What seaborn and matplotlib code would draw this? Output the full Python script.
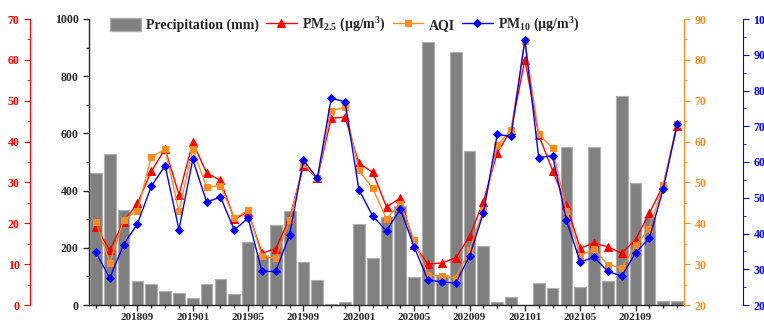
import numpy as np
import pandas as pd
import seaborn as sns
import matplotlib.pyplot as plt
import matplotlib.patches as mpatches
from matplotlib.ticker import MultipleLocator

sns.set_style("ticks")
plt.rcParams['font.family'] = ['Liberation Serif', 'DejaVu Serif']
plt.rcParams['font.weight'] = 'bold'
plt.rcParams['mathtext.fontset'] = 'custom'
plt.rcParams['mathtext.rm'] = 'Liberation Serif:bold'
plt.rcParams['mathtext.bf'] = 'Liberation Serif:bold'
plt.rcParams['mathtext.it'] = 'Liberation Serif:bold:italic'
plt.rcParams['mathtext.default'] = 'bf'

# months 201806 .. 202112
months = list(pd.period_range('2018-06', '2021-12', freq='M').strftime('%Y%m'))

precip = [461, 528, 331, 83, 72, 50, 43, 24, 75, 91, 40, 220,
          175, 279, 329, 151, 86, 2, 12, 283, 165, 307, 347, 97,
          918, 105, 886, 539, 206, 12, 28, 1, 77, 58, 551, 62,
          553, 85, 731, 425, 308, 15, 13]
pm25 = [19.1, 13.4, 20.3, 24.9, 32.7, 38.2, 27.0, 39.8, 32.3, 30.5, 21.0, 22.8,
        12.7, 13.8, 21.3, 34.1, 31.0, 45.7, 46.0, 34.7, 32.5, 24.0, 26.2, 14.7,
        10.0, 10.3, 11.5, 16.8, 25.3, 37.2, 42.9, 60.0, 41.6, 32.9, 24.5, 13.9,
        15.2, 14.2, 12.7, 16.0, 22.5, 29.3, 43.7]
aqi = [40.4, 30.3, 40.8, 43.1, 56.2, 58.1, 42.9, 58.1, 48.9, 49.2, 41.2, 43.2,
       31.9, 31.5, 40.8, 54.5, 51.0, 67.6, 68.4, 53.0, 48.6, 41.1, 44.8, 35.8,
       27.3, 27.1, 26.6, 33.4, 43.3, 59.1, 62.9, 84.5, 61.8, 58.4, 43.1, 32.1,
       33.7, 29.9, 29.1, 34.6, 38.7, 49.3, 64.4]
pm10 = [34.7, 27.5, 36.9, 42.7, 53.2, 59.0, 41.1, 60.7, 48.8, 50.2, 41.0, 44.3,
        29.4, 29.4, 39.7, 60.5, 55.4, 77.8, 76.9, 52.3, 44.9, 40.7, 46.9, 36.2,
        26.9, 26.5, 26.1, 33.7, 45.7, 67.7, 67.2, 94.2, 61.2, 61.8, 43.7, 32.0,
        33.4, 29.4, 28.1, 34.6, 38.7, 52.5, 70.6]

RED = '#ff0000'
ORANGE = '#ff8c1a'
BLUE = '#0000ff'
BAR = '#808080'

fig = plt.figure(figsize=(7.64, 3.23), dpi=100)
ax = fig.add_axes([89/764, 18/323, 595/764, 286/323])

pos = np.arange(len(months))
sns.barplot(x=months, y=precip, color=BAR, saturation=1, width=0.85,
            edgecolor='#b0b0b0', linewidth=0.8, ax=ax)

ax_red = ax.twinx()
ax_org = ax.twinx()
ax_blu = ax.twinx()

sns.lineplot(x=pos, y=pm25, ax=ax_red, color=RED, marker='^', markersize=5.5,
             markeredgecolor=RED, linewidth=1, legend=False)
sns.lineplot(x=pos, y=aqi, ax=ax_org, color=ORANGE, marker='s', markersize=4.5,
             markeredgecolor=ORANGE, linewidth=1, legend=False)
sns.lineplot(x=pos, y=pm10, ax=ax_blu, color=BLUE, marker='D', markersize=4.5,
             markeredgecolor=BLUE, linewidth=1, legend=False)

# main (precipitation) axis
ax.set_xlim(-0.5, len(months) - 0.5)
ax.set_ylim(0, 1000)
ax.set_xticks(pos[3::4])
ax.set_xticklabels(months[3::4])
ax.set_xticks(pos, minor=True)
ax.yaxis.set_major_locator(MultipleLocator(200))
ax.yaxis.set_minor_locator(MultipleLocator(100))
ax.set_xlabel('')
ax.set_ylabel('')
ax.spines['top'].set_visible(False)
ax.spines['right'].set_visible(False)
ax.tick_params(axis='y', which='major', labelsize=8.5, length=4, width=1, direction='out')
ax.tick_params(axis='x', which='major', labelsize=8, length=4, width=1, pad=2, direction='out')
ax.tick_params(axis='both', which='minor', length=2, width=1, direction='out')
for s in ['left', 'bottom']:
    ax.spines[s].set_linewidth(1)

# PM2.5 axis on the far left
ax_red.set_ylim(0, 70)
ax_red.yaxis.set_ticks_position('left')
ax_red.spines['left'].set_position(('axes', (30 - 89) / 595))
ax_red.spines['left'].set_visible(True)
ax_red.spines['left'].set_color(RED)
for s in ['top', 'right', 'bottom']:
    ax_red.spines[s].set_visible(False)
ax_red.yaxis.set_major_locator(MultipleLocator(10))
ax_red.yaxis.set_minor_locator(MultipleLocator(5))
ax_red.tick_params(axis='y', which='both', colors=RED, labelsize=8.5)
ax_red.tick_params(axis='y', which='major', length=4)
ax_red.tick_params(axis='y', which='minor', length=2)

# AQI axis on the right
ax_org.set_ylim(20, 90)
for s in ['top', 'left', 'bottom']:
    ax_org.spines[s].set_visible(False)
ax_org.spines['right'].set_color(ORANGE)
ax_org.yaxis.set_major_locator(MultipleLocator(10))
ax_org.yaxis.set_minor_locator(MultipleLocator(5))
ax_org.tick_params(axis='y', which='both', colors=ORANGE, labelsize=8.5)
ax_org.tick_params(axis='y', which='major', length=4)
ax_org.tick_params(axis='y', which='minor', length=2)

# PM10 axis on the far right
ax_blu.set_ylim(20, 100)
ax_blu.spines['right'].set_position(('axes', (743 - 89) / 595))
for s in ['top', 'left', 'bottom']:
    ax_blu.spines[s].set_visible(False)
ax_blu.spines['right'].set_color(BLUE)
ax_blu.yaxis.set_major_locator(MultipleLocator(10))
ax_blu.yaxis.set_minor_locator(MultipleLocator(5))
ax_blu.tick_params(axis='y', which='both', colors=BLUE, labelsize=8.5)
ax_blu.tick_params(axis='y', which='major', length=4)
ax_blu.tick_params(axis='y', which='minor', length=2)

for a in [ax_red, ax_org, ax_blu]:
    a.set_ylabel('')
    a.set_xlim(-0.5, len(months) - 0.5)

for a in [ax, ax_red, ax_org, ax_blu]:
    for lab in a.get_xticklabels() + a.get_yticklabels():
        lab.set_fontweight('bold')

handles = [
    mpatches.Patch(facecolor=BAR, edgecolor='#b0b0b0', label='Precipitation (mm)'),
    ax_red.lines[0], ax_org.lines[0], ax_blu.lines[0],
]
labels = ['Precipitation (mm)',
          r'PM$_{2.5}$ (μg/m$^{3}$)',
          'AQI',
          r'PM$_{10}$ (μg/m$^{3}$)']
leg = ax_blu.legend(handles, labels, loc='center left', ncol=4,
                    bbox_to_anchor=((110 - 89) / 595, (305 - 25) / 286),
                    frameon=False, borderpad=0, borderaxespad=0,
                    handlelength=2.2, handleheight=1.1, handletextpad=0.4,
                    columnspacing=0.5,
                    prop={'family': 'Liberation Serif', 'weight': 'bold', 'size': 10})

fig.savefig('out.png', dpi=100)
